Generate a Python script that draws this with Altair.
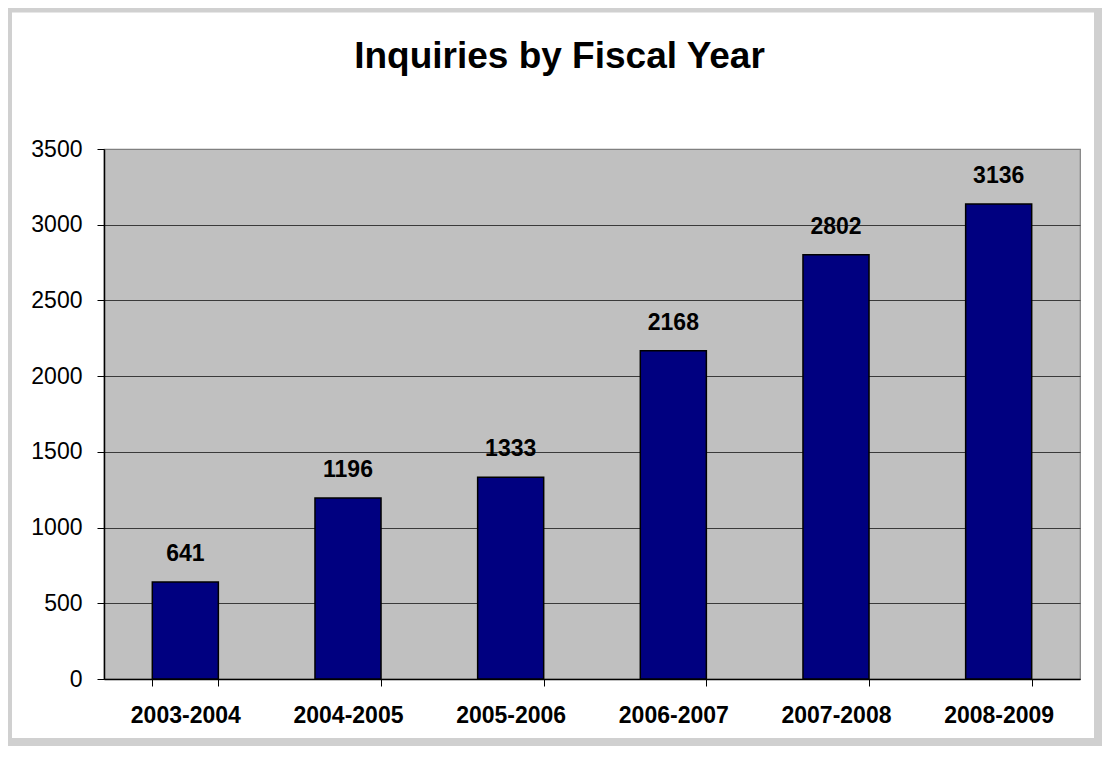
import altair as alt
import pandas as pd

years = ["2003-2004", "2004-2005", "2005-2006", "2006-2007", "2007-2008", "2008-2009"]
inquiries = [641, 1196, 1333, 2168, 2802, 3136]
y_ticks = [0, 500, 1000, 1500, 2000, 2500, 3000, 3500]
chart_title = "Inquiries by Fiscal Year"

df = pd.DataFrame({"year": years, "inquiries": inquiries})

FONT = "Liberation Sans"
W, H = 976, 530

x_enc = alt.X(
    "year:N",
    sort=years,
    title=None,
    scale=alt.Scale(paddingInner=0.594, paddingOuter=0.297),
    axis=alt.Axis(
        labelAngle=0,
        labelFont=FONT,
        labelFontSize=23,
        labelFontWeight="bold",
        labelColor="black",
        labelPadding=18,
        tickBand="extent",
        tickSize=7,
        tickColor="black",
        domainColor="black",
        domainWidth=1.5,
        grid=False,
    ),
)

y_enc = alt.Y(
    "inquiries:Q",
    title=None,
    scale=alt.Scale(domain=[0, 3500], nice=False),
    axis=alt.Axis(
        values=y_ticks,
        format="d",
        labelFont=FONT,
        labelFontSize=23,
        labelColor="black",
        labelPadding=15,
        tickSize=7,
        tickColor="black",
        domainColor="black",
        domainWidth=1.5,
        gridColor={"condition": {"test": "datum.value === 3500", "value": "#808080"}, "value": "#3a3a3a"},
        gridWidth=1.2,
    ),
)

bars = alt.Chart(df).mark_bar(color="#000080", stroke="black", strokeWidth=1.5).encode(
    x=x_enc, y=y_enc
)

labels = alt.Chart(df).mark_text(
    font=FONT, fontSize=23, fontWeight="bold", color="black",
    baseline="alphabetic", align="center", dy=-21,
).encode(
    x=alt.X("year:N", sort=years),
    y=alt.Y("inquiries:Q"),
    text="inquiries:Q",
)

one = alt.Data(values=[{"t": chart_title}])

frame = alt.Chart(one).mark_rect(
    fill="transparent", stroke="#D0D0D0", strokeWidth=8
).encode(
    x=alt.value(-96), x2=alt.value(994), y=alt.value(-140.5), y2=alt.value(593)
)

title = alt.Chart(one).mark_text(
    font=FONT, fontSize=37, fontWeight="bold", color="black",
    baseline="alphabetic", align="center",
).encode(
    x=alt.value(455.5), y=alt.value(-80.7), text="t:N"
)

chart = alt.layer(frame, bars, labels, title).properties(
    width=W,
    height=H,
    autosize=alt.AutoSizeParams(type="none"),
    padding={"left": 96, "top": 141, "right": 22, "bottom": 67},
).configure_view(
    fill="#C0C0C0", stroke="#808080", strokeWidth=1.2
)

chart.save("out.html", embed_options={"renderer": "svg", "actions": False})
